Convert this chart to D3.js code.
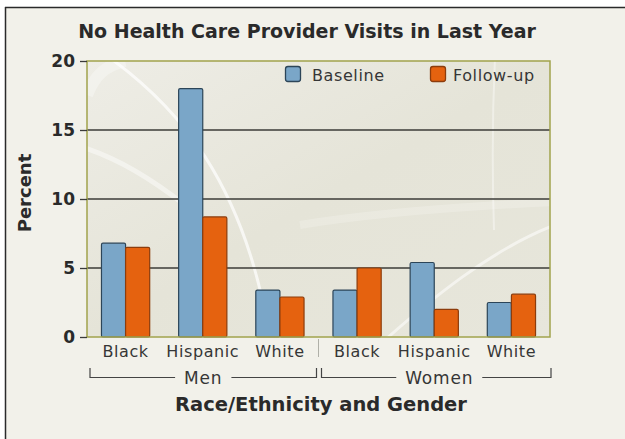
<!DOCTYPE html>
<html>
<head>
<meta charset="utf-8">
<script src="https://cdn.jsdelivr.net/npm/d3@7"></script>
<style>
  html, body { margin: 0; padding: 0; background: #ffffff; }
  svg { display: block; }
  text { font-family: "DejaVu Sans", Verdana, sans-serif; }
</style>
</head>
<body>
<svg id="chart" width="625" height="439"></svg>
<script>
// ---- data ----
const groups = ["Men", "Women"];
const races = ["Black", "Hispanic", "White"];
const categories = ["Men|Black", "Men|Hispanic", "Men|White", "Women|Black", "Women|Hispanic", "Women|White"];
const seriesNames = ["Baseline", "Follow-up"];
const baseline = [6.8, 18.0, 3.4, 3.4, 5.4, 2.5];
const followUp = [6.5, 8.7, 2.9, 5.0, 2.0, 3.1];
const yTicks = [0, 5, 10, 15, 20];
const titleText = "No Health Care Provider Visits in Last Year";
const xTitle = "Race/Ethnicity and Gender";
const yTitle = "Percent";

const seriesValues = [baseline, followUp];
const colors = { "Baseline": "#7aa6c8", "Follow-up": "#e5620f" };
const strokes = { "Baseline": "#2c4558", "Follow-up": "#8c3c0c" };

const svg = d3.select("#chart");
const W = 625, H = 439;
const plot = { left: 87, right: 550, top: 61, bottom: 337 };

// frame
svg.append("rect").attr("x", 5).attr("y", 7).attr("width", W - 5).attr("height", H - 7).attr("fill", "#f2f1ea");
svg.append("line").attr("x1", 5).attr("x2", W).attr("y1", 7.5).attr("y2", 7.5).attr("stroke", "#2a2a2a").attr("stroke-width", 1.5);
svg.append("line").attr("x1", 5.5).attr("x2", 5.5).attr("y1", 7).attr("y2", H).attr("stroke", "#2a2a2a").attr("stroke-width", 1.5);

// scales
const x = d3.scaleBand().domain(categories).range([plot.left, plot.right]).paddingInner(0.375).paddingOuter(0.1875);
const xs = d3.scaleBand().domain(seriesNames).range([0, x.bandwidth()]);
const y = d3.scaleLinear().domain([0, 20]).range([plot.bottom, plot.top]);

// plot background
const defs = svg.append("defs");
const grad = defs.append("linearGradient").attr("id", "bg").attr("x1", "0").attr("y1", "0").attr("x2", "1").attr("y2", "1");
grad.append("stop").attr("offset", "0").attr("stop-color", "#eeede6");
grad.append("stop").attr("offset", "0.5").attr("stop-color", "#e5e4d8");
grad.append("stop").attr("offset", "1").attr("stop-color", "#e7e6db");
defs.append("clipPath").attr("id", "pclip").append("rect")
  .attr("x", plot.left).attr("y", plot.top).attr("width", plot.right - plot.left).attr("height", plot.bottom - plot.top);

svg.append("rect").attr("x", plot.left).attr("y", plot.top)
  .attr("width", plot.right - plot.left).attr("height", plot.bottom - plot.top).attr("fill", "url(#bg)");

// decorative swooshes
const deco = svg.append("g").attr("clip-path", "url(#pclip)").attr("fill", "none").attr("stroke", "#ffffff");
deco.append("path").attr("d", "M110,58 C175,105 245,180 270,340").attr("stroke-width", 3).attr("opacity", 0.7);
deco.append("path").attr("d", "M85,148 C120,160 150,178 185,205").attr("stroke-width", 5).attr("opacity", 0.45);
deco.append("path").attr("d", "M300,225 C380,212 470,206 555,202").attr("stroke-width", 8).attr("opacity", 0.2);
deco.append("path").attr("d", "M385,340 C430,300 490,250 555,225").attr("stroke-width", 3).attr("opacity", 0.55);
deco.append("path").attr("d", "M495,58 C492,120 492,170 494,230").attr("stroke-width", 2).attr("opacity", 0.4);
deco.append("path").attr("d", "M87,95 C95,75 105,66 125,61").attr("stroke-width", 12).attr("opacity", 0.3);

// gridlines (5,10,15)
svg.append("g").selectAll("line").data(yTicks.filter(t => t > 0 && t < 20)).join("line")
  .attr("x1", plot.left).attr("x2", plot.right)
  .attr("y1", d => y(d)).attr("y2", d => y(d))
  .attr("stroke", "#3b3b37").attr("stroke-width", 1.5);

// bars
const bars = svg.append("g");
categories.forEach((c, i) => {
  seriesNames.forEach((s, j) => {
    const v = seriesValues[j][i];
    bars.append("rect")
      .attr("x", x(c) + xs(s))
      .attr("y", y(v))
      .attr("width", xs.bandwidth())
      .attr("height", y(0) - y(v))
      .attr("rx", 1.5)
      .attr("fill", colors[s])
      .attr("stroke", strokes[s])
      .attr("stroke-width", 1.2);
  });
});

// plot border (olive)
svg.append("rect").attr("x", plot.left).attr("y", plot.top)
  .attr("width", plot.right - plot.left).attr("height", plot.bottom - plot.top)
  .attr("fill", "none").attr("stroke", "#a1a34c").attr("stroke-width", 1.5);

// y axis ticks & labels
const yAxis = d3.axisLeft(y).tickValues(yTicks).tickSize(7).tickPadding(5).tickFormat(d3.format("d"));
const ya = svg.append("g").attr("transform", `translate(${plot.left},0)`).call(yAxis);
ya.select(".domain").remove();
ya.selectAll(".tick line").attr("stroke", "#3a3a3a").attr("stroke-width", 1.3);
ya.selectAll(".tick text").attr("font-family", "DejaVu Sans, sans-serif").attr("font-size", 17)
  .attr("font-weight", "bold").attr("fill", "#2a2a2a");

// category labels
svg.append("g").selectAll("text").data(categories).join("text")
  .attr("x", d => x(d) + x.bandwidth() / 2)
  .attr("y", 356.5)
  .attr("text-anchor", "middle")
  .attr("font-size", 16)
  .attr("letter-spacing", 0.6)
  .attr("fill", "#363636")
  .text(d => d.split("|")[1]);

// separator between groups
const mid = (x(categories[2]) + x.bandwidth() + x(categories[3])) / 2;
svg.append("line").attr("x1", mid).attr("x2", mid).attr("y1", 339).attr("y2", 357)
  .attr("stroke", "#b0b0a8").attr("stroke-width", 1);

// group brackets
const bracketY = 377.5, bracketTop = 368;
const spans = [
  [plot.left + 3, mid - 2],
  [mid + 3, plot.right + 1]
];
groups.forEach((g, i) => {
  const [a, b] = spans[i];
  const cx = (a + b) / 2 + (i === 1 ? 3 : 0);
  const t = svg.append("text").attr("x", cx).attr("y", 384).attr("text-anchor", "middle")
    .attr("font-size", 17).attr("letter-spacing", 0.8).attr("fill", "#363636").text(g);
  const w = t.node().getComputedTextLength();
  const gap = 9;
  svg.append("path")
    .attr("d", `M${a},${bracketTop} V${bracketY} H${cx - w / 2 - gap} M${cx + w / 2 + gap},${bracketY} H${b} V${bracketTop}`)
    .attr("fill", "none").attr("stroke", "#444").attr("stroke-width", 1.2);
});

// titles
svg.append("text").attr("x", 307).attr("y", 37.5).attr("text-anchor", "middle")
  .attr("font-size", 19).attr("font-weight", "bold").attr("fill", "#2a2a2a").text(titleText);
svg.append("text").attr("x", 321).attr("y", 411).attr("text-anchor", "middle")
  .attr("font-size", 19.5).attr("font-weight", "bold").attr("fill", "#2a2a2a").text(xTitle);
svg.append("text").attr("transform", "translate(31,193) rotate(-90)").attr("text-anchor", "middle")
  .attr("font-size", 18).attr("font-weight", "bold").attr("fill", "#2a2a2a").text(yTitle);

// legend
const legendPos = [{ sx: 285, tx: 312 }, { sx: 430, tx: 453 }];
seriesNames.forEach((s, i) => {
  svg.append("rect").attr("x", legendPos[i].sx + 0.5).attr("y", 66.5).attr("width", 15).attr("height", 15)
    .attr("rx", 2.5).attr("fill", colors[s]).attr("stroke", strokes[s]).attr("stroke-width", 1.3);
  svg.append("text").attr("x", legendPos[i].tx).attr("y", 81).attr("font-size", 16)
    .attr("letter-spacing", 0.6).attr("fill", "#363636").text(s);
});
</script>
</body>
</html>
